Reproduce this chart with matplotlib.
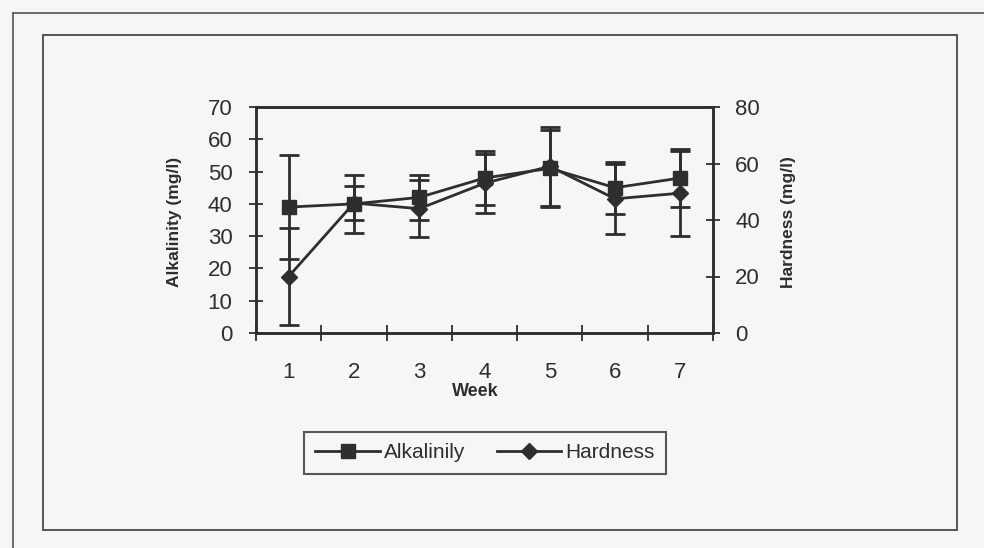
import matplotlib
matplotlib.use("Agg")
from matplotlib import pyplot as plt
from matplotlib.lines import Line2D
from matplotlib.patches import Rectangle

plt.rcParams['font.family'] = ['Liberation Sans', 'DejaVu Sans']

# values
weeks = [1, 2, 3, 4, 5, 6, 7]
week_labels = ['1', '2', '3', '4', '5', '6', '7']
alkalinity = [39, 40, 42, 48, 51, 45, 48]
alkalinity_err = [16, 9, 7, 8.5, 12, 8, 9]
hardness = [20, 46, 44, 53, 59, 47.5, 49.5]
hardness_err = [17, 6, 10, 10.5, 14, 12.5, 15]

ink = '#2e2e2e'
W, H = 984, 548

fig = plt.figure(figsize=(9.84, 5.48), dpi=100)
fig.patch.set_facecolor('#f6f6f6')

# page frame and chart frame of the scan
fig.add_artist(Line2D([13 / W, 13 / W], [0, 1 - 13 / H], color='#555555', lw=1.2))
fig.add_artist(Line2D([13 / W, 1], [1 - 13 / H, 1 - 13 / H], color='#555555', lw=1.2))
fig.add_artist(Rectangle((43 / W, 1 - 530 / H), (957 - 43) / W, (530 - 35) / H,
                         transform=fig.transFigure, fill=False, ec='#555555', lw=1.4))

ax = fig.add_axes([256 / W, 1 - 333 / H, (713 - 256) / W, (333 - 107) / H])
ax.set_facecolor('none')
ax2 = ax.twinx()

ax.errorbar(weeks, alkalinity, yerr=alkalinity_err, color=ink, marker='s', ms=10,
            lw=2, elinewidth=2, capsize=7, capthick=2, label='Alkalinily', zorder=3)
ax2.errorbar(weeks, hardness, yerr=hardness_err, color=ink, marker='D', ms=8,
             lw=2, elinewidth=2, capsize=7, capthick=2, label='Hardness', zorder=3)

ax.set_xlim(0.5, 7.5)
ax.set_ylim(0, 70)
ax2.set_ylim(0, 80)
ax.set_yticks(range(0, 71, 10))
ax2.set_yticks(range(0, 81, 20))
ax.set_xticks(weeks)
ax.set_xticklabels(week_labels)
ax.set_xticks([w + 0.5 for w in range(8)], minor=True)

for a in (ax, ax2):
    for s in a.spines.values():
        s.set_color(ink)
        s.set_linewidth(1.8)

ax.tick_params(axis='x', which='major', length=0, pad=21, labelsize=16, colors=ink)
ax.tick_params(axis='x', which='minor', direction='inout', length=11, width=1.3, color=ink)
ax.tick_params(axis='y', direction='inout', length=10, width=1.3, pad=12,
               labelsize=16, colors=ink)
ax2.tick_params(axis='y', direction='inout', length=10, width=1.3, pad=11,
                labelsize=16, colors=ink)

fig.text(475 / W, 1 - 392 / H, 'Week', ha='center', va='center',
         fontsize=13, fontweight='bold', color=ink)
fig.text(174 / W, 1 - 222 / H, 'Alkalinity (mg/l)', ha='center', va='center',
         rotation=90, fontsize=12.5, fontweight='bold', color=ink)
fig.text(788 / W, 1 - 222 / H, 'Hardness (mg/l)', ha='center', va='center',
         rotation=90, fontsize=12.5, fontweight='bold', color=ink)

handles = [
    Line2D([0], [0], color=ink, lw=2, marker='s', ms=10, label='Alkalinily'),
    Line2D([0], [0], color=ink, lw=2, marker='D', ms=8, label='Hardness'),
]
leg = fig.legend(handles=handles, loc='center', bbox_to_anchor=(485 / W, 1 - 453 / H),
                 ncol=2, fontsize=15, frameon=True, fancybox=False,
                 handlelength=3.1, handletextpad=0.2, columnspacing=1.5,
                 borderpad=0.55, labelcolor=ink)
leg.get_frame().set_edgecolor(ink)
leg.get_frame().set_linewidth(1.5)
leg.get_frame().set_facecolor('#f6f6f6')

fig.savefig('out.png', dpi=100, facecolor=fig.get_facecolor())
